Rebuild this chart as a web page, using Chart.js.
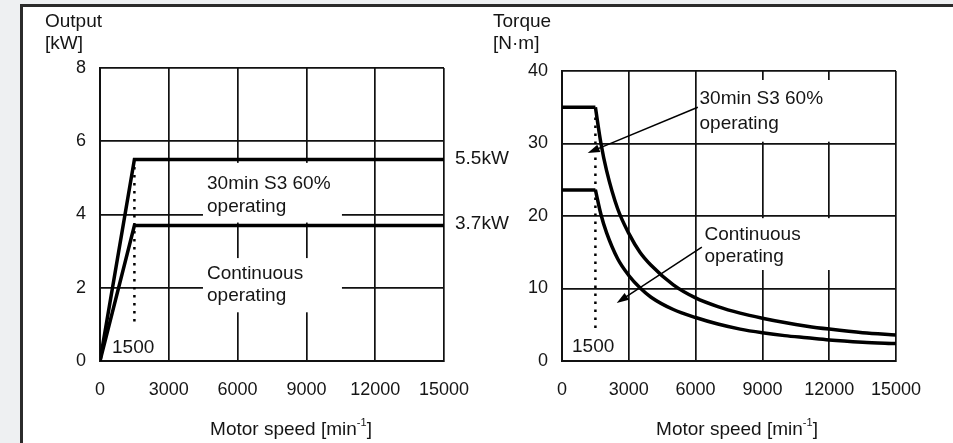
<!DOCTYPE html>
<html>
<head>
<meta charset="utf-8">
<script src="https://cdn.jsdelivr.net/npm/chart.js@4.4.1/dist/chart.umd.min.js"></script>
<style>
  html, body { margin: 0; padding: 0; background: #eef0f2; }
  #wrap { position: relative; width: 953px; height: 443px; overflow: hidden; }
  #panel {
    position: absolute; left: 20px; top: 4px; right: 0; bottom: 0;
    background: #fff; border-left: 3px solid #2b2b2b; border-top: 3px solid #2b2b2b;
  }
  canvas { position: absolute; left: 0; top: 0; }
</style>
</head>
<body>
<div id="wrap">
  <div id="panel"></div>
  <canvas id="outputChart" width="953" height="443"></canvas>
  <canvas id="torqueChart" width="953" height="443"></canvas>
</div>
<script>
// Output chart (left)
const outSpeeds = [0, 1500, 15000];
const out30min = [0, 5.5, 5.5];
const outCont = [0, 3.7, 3.7];
const outTicks = [0, 2, 4, 6, 8];

// Torque chart (right)
const trqSpeeds = [0, 1500, 1750, 2000, 2500, 3000, 3500, 4000, 5000, 6000, 7000, 8000, 9000, 10000, 11000, 12000, 13500, 15000];
const trq30min = [35, 35, 30, 26.3, 21, 17.6, 15, 13.2, 10.5, 8.7, 7.5, 6.6, 5.9, 5.3, 4.8, 4.4, 3.9, 3.6];
const trqCont = [23.6, 23.6, 20.2, 17.7, 14.1, 11.8, 10.1, 8.8, 7.1, 6.0, 5.1, 4.4, 3.9, 3.5, 3.2, 2.9, 2.6, 2.4];
const trqTicks = [0, 10, 20, 30, 40];

const speedTicks = [0, 3000, 6000, 9000, 12000, 15000];
const baseSpeed = 1500;

const FONT = '"Liberation Sans", Arial, sans-serif';
const INK = '#151515';

function pts(xs, ys, from, to) {
    const out = [];
    for (let i = from; i < to; i++) out.push({ x: xs[i], y: ys[i] });
    return out;
}

function lineSet(data, extra) {
    return Object.assign({
        data: data,
        borderColor: '#000',
        borderWidth: 3.5,
        pointRadius: 0,
        fill: false,
        tension: 0
    }, extra || {});
}

function drawSup(ctx, cx, cy, pre, sup, post, size) {
    ctx.save();
    ctx.fillStyle = INK;
    ctx.textBaseline = 'middle';
    ctx.textAlign = 'left';
    ctx.font = size + 'px ' + FONT;
    const w1 = ctx.measureText(pre).width;
    const w3 = ctx.measureText(post).width;
    ctx.font = Math.round(size * 0.6) + 'px ' + FONT;
    const w2 = ctx.measureText(sup).width;
    let x = cx - (w1 + w2 + w3) / 2;
    ctx.font = size + 'px ' + FONT;
    ctx.fillText(pre, x, cy);
    ctx.font = Math.round(size * 0.6) + 'px ' + FONT;
    ctx.fillText(sup, x + w1, cy - size * 0.35);
    ctx.font = size + 'px ' + FONT;
    ctx.fillText(post, x + w1 + w2, cy);
    ctx.restore();
}

function text(ctx, s, x, y, align, base) {
    ctx.save();
    ctx.fillStyle = INK;
    ctx.font = '19px ' + FONT;
    ctx.textAlign = align || 'left';
    ctx.textBaseline = base || 'alphabetic';
    ctx.fillText(s, x, y);
    ctx.restore();
}

function arrow(ctx, x1, y1, x2, y2) {
    const a = Math.atan2(y2 - y1, x2 - x1);
    ctx.save();
    ctx.strokeStyle = '#000';
    ctx.fillStyle = '#000';
    ctx.lineWidth = 1.5;
    ctx.beginPath();
    ctx.moveTo(x1, y1);
    ctx.lineTo(x2 - 6 * Math.cos(a), y2 - 6 * Math.sin(a));
    ctx.stroke();
    ctx.beginPath();
    ctx.moveTo(x2, y2);
    ctx.lineTo(x2 - 12 * Math.cos(a) + 4 * Math.sin(a), y2 - 12 * Math.sin(a) - 4 * Math.cos(a));
    ctx.lineTo(x2 - 12 * Math.cos(a) - 4 * Math.sin(a), y2 - 12 * Math.sin(a) + 4 * Math.cos(a));
    ctx.closePath();
    ctx.fill();
    ctx.restore();
}

// white boxes behind the in-plot labels, given in data units
function whiteBoxes(boxes) {
    return {
        id: 'whiteBoxes',
        beforeDatasetsDraw(chart) {
            const xs = chart.scales.x, ys = chart.scales.y, ctx = chart.ctx;
            ctx.save();
            ctx.fillStyle = '#fff';
            boxes.forEach(b => {
                const x1 = xs.getPixelForValue(b[0]), x2 = xs.getPixelForValue(b[1]);
                const y1 = ys.getPixelForValue(b[2]), y2 = ys.getPixelForValue(b[3]);
                ctx.fillRect(x1, y1, x2 - x1, y2 - y1);
            });
            ctx.restore();
        }
    };
}

function scales(yMax, yTicks) {
    return {
        x: {
            type: 'linear', min: 0, max: 15000,
            afterBuildTicks: s => { s.ticks = speedTicks.map(v => ({ value: v })); },
            afterFit: s => { s.height = 40; },
            grid: { color: '#111', lineWidth: 1.7, drawTicks: false },
            border: { color: '#111', width: 2 },
            ticks: { font: { family: FONT, size: 18 }, color: INK, padding: 18, maxRotation: 0, callback: v => String(v) }
        },
        y: {
            type: 'linear', min: 0, max: yMax,
            afterBuildTicks: s => { s.ticks = yTicks.map(v => ({ value: v })); },
            afterFit: s => { s.width = 60; },
            grid: { color: '#111', lineWidth: 1.7, drawTicks: false },
            border: { color: '#111', width: 2 },
            ticks: { font: { family: FONT, size: 18 }, color: INK, padding: 14, callback: v => String(v) }
        }
    };
}

const common = {
    responsive: false,
    animation: false,
    events: [],
    plugins: { legend: { display: false }, tooltip: { enabled: false } }
};

// ---- Output chart ----
new Chart(document.getElementById('outputChart'), {
    type: 'line',
    data: {
        datasets: [
            lineSet(pts(outSpeeds, out30min, 0, outSpeeds.length)),
            lineSet(pts(outSpeeds, outCont, 0, outSpeeds.length)),
            lineSet([{ x: baseSpeed, y: 5.3 }, { x: baseSpeed, y: 1.0 }], { borderWidth: 2.5, borderDash: [2.5, 5.5] })
        ]
    },
    options: Object.assign({}, common, {
        layout: { padding: { left: 40, right: 509, top: 68, bottom: 42 } },
        scales: scales(8, outTicks)
    }),
    plugins: [
        whiteBoxes([[4490, 10550, 5.41, 3.78], [4490, 10550, 2.81, 1.33]]),
        {
            id: 'outLabels',
            afterDraw(chart) {
                const ctx = chart.ctx, xs = chart.scales.x, ys = chart.scales.y, a = chart.chartArea;
                text(ctx, 'Output', 45, 22, 'left', 'middle');
                text(ctx, '[kW]', 45, 44, 'left', 'middle');
                text(ctx, '30min S3 60%', xs.getPixelForValue(4666), ys.getPixelForValue(4.70));
                text(ctx, 'operating', xs.getPixelForValue(4666), ys.getPixelForValue(4.07));
                text(ctx, 'Continuous', xs.getPixelForValue(4666), ys.getPixelForValue(2.24));
                text(ctx, 'operating', xs.getPixelForValue(4666), ys.getPixelForValue(1.63));
                text(ctx, '5.5kW', a.right + 11, ys.getPixelForValue(5.5) - 1, 'left', 'middle');
                text(ctx, '3.7kW', a.right + 11, ys.getPixelForValue(3.7) - 2, 'left', 'middle');
                text(ctx, '1500', a.left + 12, ys.getPixelForValue(0.37), 'left', 'middle');
                drawSup(ctx, 291, 430, 'Motor speed [min', '-1', ']', 19);
            }
        }
    ]
});

// ---- Torque chart ----
new Chart(document.getElementById('torqueChart'), {
    type: 'line',
    data: {
        datasets: [
            lineSet(pts(trqSpeeds, trq30min, 0, 2)),
            lineSet(pts(trqSpeeds, trq30min, 1, trqSpeeds.length), { cubicInterpolationMode: 'monotone' }),
            lineSet(pts(trqSpeeds, trqCont, 0, 2)),
            lineSet(pts(trqSpeeds, trqCont, 1, trqSpeeds.length), { cubicInterpolationMode: 'monotone' }),
            lineSet([{ x: baseSpeed, y: 33.6 }, { x: baseSpeed, y: 3.9 }], { borderWidth: 2.5, borderDash: [2.5, 5.5] })
        ]
    },
    options: Object.assign({}, common, {
        layout: { padding: { left: 502, right: 57, top: 71, bottom: 42 } },
        scales: scales(40, trqTicks)
    }),
    plugins: [
        whiteBoxes([[6144, 14860, 38.76, 30.25], [6190, 14860, 19.7, 12.55]]),
        {
            id: 'trqLabels',
            afterDraw(chart) {
                const ctx = chart.ctx, xs = chart.scales.x, ys = chart.scales.y, a = chart.chartArea;
                text(ctx, 'Torque', 493, 22, 'left', 'middle');
                text(ctx, '[N\u00b7m]', 493, 44, 'left', 'middle');
                text(ctx, '30min S3 60%', xs.getPixelForValue(6175), ys.getPixelForValue(35.4));
                text(ctx, 'operating', xs.getPixelForValue(6175), ys.getPixelForValue(32.0));
                text(ctx, 'Continuous', xs.getPixelForValue(6400), ys.getPixelForValue(16.7));
                text(ctx, 'operating', xs.getPixelForValue(6400), ys.getPixelForValue(13.65));
                text(ctx, '1500', a.left + 10, ys.getPixelForValue(1.9), 'left', 'middle');
                arrow(ctx, xs.getPixelForValue(6100), ys.getPixelForValue(35.0), xs.getPixelForValue(1155), ys.getPixelForValue(28.7));
                arrow(ctx, xs.getPixelForValue(6280), ys.getPixelForValue(15.7), xs.getPixelForValue(2459), ys.getPixelForValue(8.0));
                drawSup(ctx, 737, 430, 'Motor speed [min', '-1', ']', 19);
            }
        }
    ]
});
</script>
</body>
</html>
